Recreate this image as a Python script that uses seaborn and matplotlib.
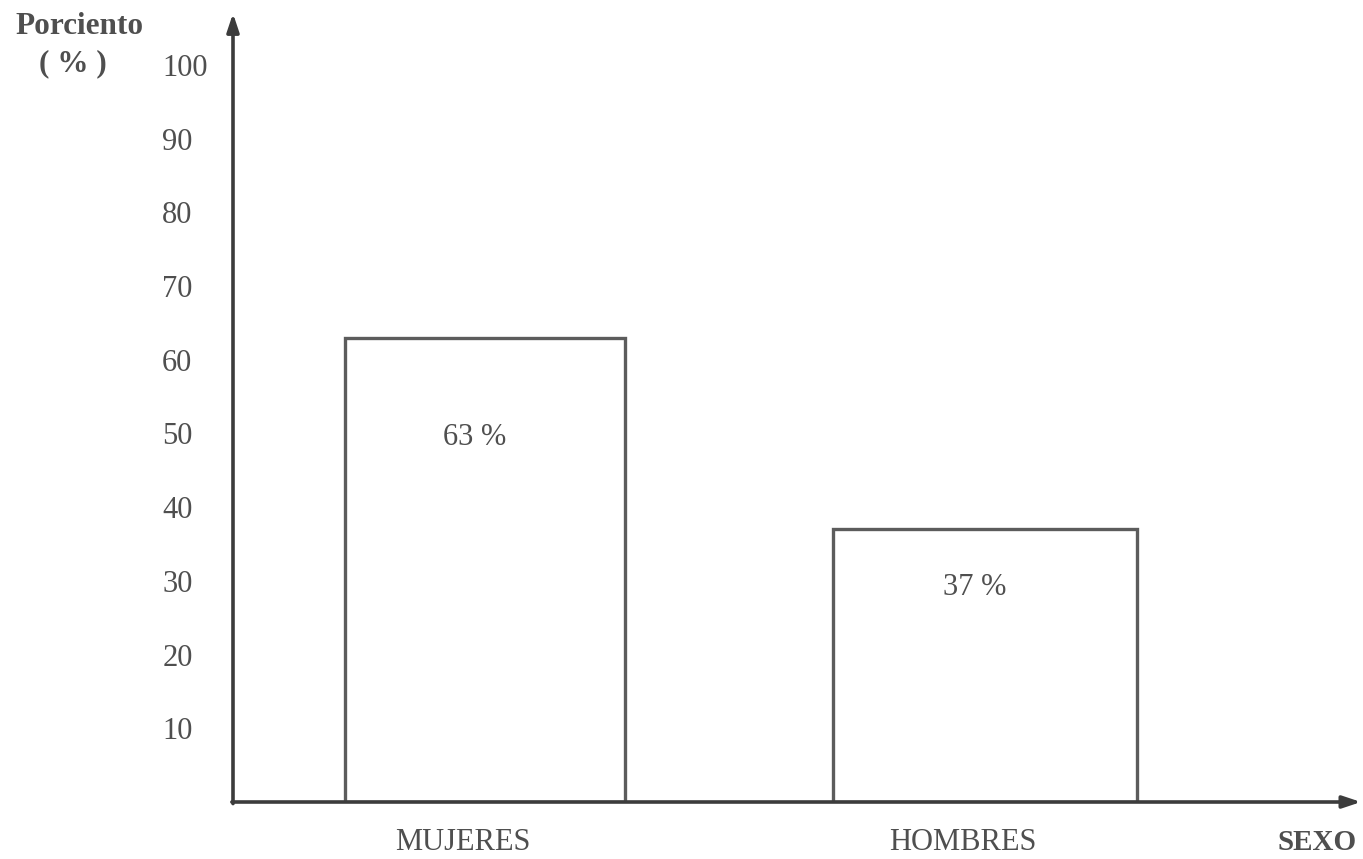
import matplotlib
matplotlib.use("Agg")
import matplotlib.pyplot as plt
import matplotlib.transforms as mtransforms
import seaborn as sns

# Distribution of patients by sex
categories = ["MUJERES", "HOMBRES"]
percentages = [63, 37]
value_labels = ["63 %", "37 %"]
y_ticks = [10, 20, 30, 40, 50, 60, 70, 80, 90, 100]
y_tick_labels = ["10", "20", "30", "40", "50", "60", "70", "80", "90", "100"]

sns.set_theme(style="white")
plt.rcParams["font.family"] = ["Liberation Serif", "DejaVu Serif"]

TEXT = "#4f4f4f"
LINE = "#3c3c3c"
EDGE = "#5c5c5c"

W, H = 1363, 859
fig = plt.figure(figsize=(W / 100, H / 100), dpi=100)
fig.patch.set_facecolor("white")

px_per_unit = 7.37
ax = fig.add_axes([233 / W, (H - 802) / H, (1361 - 233) / W, 107 * px_per_unit / H])

sns.barplot(x=categories, y=percentages, ax=ax, width=0.6, color="white",
            saturation=1, edgecolor=EDGE, linewidth=2.4)

# Hand-drawn bars are slightly different in width
bar_widths = [0.56, 0.608]
for i, (patch, w) in enumerate(zip(ax.patches, bar_widths)):
    patch.set_x(i - w / 2)
    patch.set_width(w)

ax.set_xlim(-0.504, 1.752)
ax.set_ylim(0, 107)
ax.set_xlabel("")
ax.set_ylabel("")
for s in ax.spines.values():
    s.set_visible(False)

# Axes drawn as arrows
ax.annotate("", xy=(0, 1.0), xytext=(0, -0.002), xycoords="axes fraction",
            arrowprops=dict(arrowstyle="-|>,head_length=0.9,head_width=0.3",
                            color=LINE, lw=2.6, shrinkA=0, shrinkB=0))
ax.annotate("", xy=(1.0, 0), xytext=(-0.001, 0), xycoords="axes fraction",
            arrowprops=dict(arrowstyle="-|>,head_length=0.9,head_width=0.3",
                            color=LINE, lw=2.6, shrinkA=0, shrinkB=0))

# Y ticks: left-aligned labels, no tick marks
ax.set_yticks(y_ticks)
ax.set_yticklabels(y_tick_labels, fontsize=22, color=TEXT)
for lab in ax.get_yticklabels():
    lab.set_ha("left")
ax.tick_params(axis="y", length=0, pad=51)

# X ticks
ax.set_xticks(range(len(categories)))
ax.set_xticklabels(categories, fontsize=22, color=TEXT)
ax.tick_params(axis="x", length=0, pad=19)
shift = mtransforms.ScaledTranslation(-0.22, 0, fig.dpi_scale_trans)
for lab in ax.get_xticklabels():
    lab.set_transform(lab.get_transform() + shift)

# Value labels inside the bars
for i, (v, t) in enumerate(zip(percentages, value_labels)):
    ax.text(i - 0.02, v * 0.785, t, ha="center", va="center",
            fontsize=22, color=TEXT)

# Axis titles
fig.text(80 / W, 1 - 26 / H, "Porciento", ha="center", va="center",
         fontsize=22.5, fontweight="bold", color=TEXT)
fig.text(73 / W, 1 - 64 / H, "( % )", ha="center", va="center",
         fontsize=22.5, fontweight="bold", color=TEXT)
fig.text(1357 / W, 1 - 843 / H, "SEXO", ha="right", va="center",
         fontsize=21, fontweight="bold", color=TEXT)

fig.savefig("out.png", dpi=100, facecolor="white")
